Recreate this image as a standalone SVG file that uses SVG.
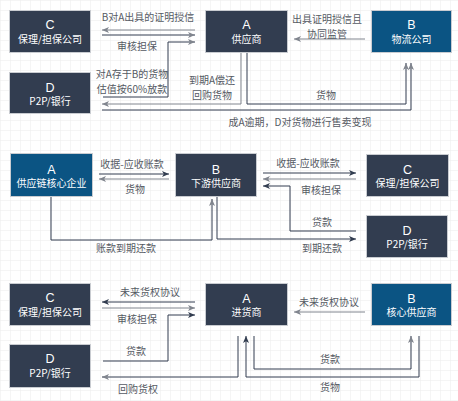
<svg xmlns="http://www.w3.org/2000/svg" width="458" height="401" viewBox="0 0 458 401">
<style>
.bx{stroke:#c9ccd1;stroke-width:1}
.dk{fill:#323d50}
.bl{fill:#0b5483}
.t1{font-family:"Liberation Sans","Noto Sans CJK SC",sans-serif;font-size:12.5px;fill:#ffffff;text-anchor:middle}
.t2{font-family:"Noto Sans CJK SC","Liberation Sans",sans-serif;font-size:10px;fill:#ffffff;text-anchor:middle}
.lb{font-family:"Noto Sans CJK SC","Liberation Sans",sans-serif;font-size:10px;fill:#555a63;text-anchor:middle}
.cd{fill:none;stroke:#323d50;stroke-width:1}
.cg{fill:none;stroke:#80858e;stroke-width:1}
</style>
<defs>
<pattern id="grid" width="10" height="10" patternUnits="userSpaceOnUse">
<path d="M10,0 L0,0 L0,10" fill="none" stroke="#ebebeb" stroke-width="1"/>
</pattern>
<marker id="ad" markerWidth="7" markerHeight="6" refX="7" refY="3" orient="auto" markerUnits="userSpaceOnUse">
<path d="M0,0 L7,3 L0,6 L1.8,3 Z" fill="#323d50"/>
</marker>
<marker id="ag" markerWidth="7" markerHeight="6" refX="7" refY="3" orient="auto" markerUnits="userSpaceOnUse">
<path d="M0,0 L7,3 L0,6 L1.8,3 Z" fill="#80858e"/>
</marker>
</defs>
<rect width="458" height="401" fill="#ffffff"/>
<rect width="458" height="401" fill="url(#grid)"/>

<g id="connectors">
<!-- section 1 -->
<path class="cg" d="M195,30 L102,30" marker-end="url(#ag)"/>
<path class="cd" d="M102,35 L195,35" marker-end="url(#ag)"/>
<path class="cd" d="M103,97 L168,97 L168,42 L195,42" marker-end="url(#ag)"/>
<path class="cg" d="M365,39 L294,39" marker-end="url(#ag)"/>
<path class="cg" d="M241,53 L241,104 L102,104" marker-end="url(#ag)"/>
<path class="cd" d="M247,53 L247,104 L406,104 L406,63" marker-end="url(#ag)"/>
<path class="cd" d="M102,110 L411,110 L411,63" marker-end="url(#ag)"/>
<text class="lb" x="148" y="20.5">B对A出具的证明授信</text>
<text class="lb" x="137" y="49.5">审核担保</text>
<text class="lb" x="132" y="78">对A存于B的货物</text>
<text class="lb" x="132" y="92.5">估值按60%放款</text>
<text class="lb" x="212" y="84">到期A偿还</text>
<text class="lb" x="212" y="98.5">回购货物</text>
<text class="lb" x="326" y="98.5">货物</text>
<text class="lb" x="300" y="125.5">成A逾期，D对货物进行售卖变现</text>
<text class="lb" x="327" y="23">出具证明授信且</text>
<text class="lb" x="327" y="37.5">协同监管</text>

<!-- section 2 -->
<path class="cd" d="M99,174 L169,174" marker-end="url(#ad)"/>
<path class="cg" d="M169,179 L99,179" marker-end="url(#ag)"/>
<path class="cd" d="M51,197 L51,240 L212,240 L212,199" marker-end="url(#ag)"/>
<path class="cd" d="M263,173 L356,173" marker-end="url(#ad)"/>
<path class="cg" d="M356,179 L263,179" stroke-width="1.5" marker-end="url(#ag)"/>
<path class="cd" d="M356,231 L290,231 L290,186 L263,186" marker-end="url(#ad)"/>
<path class="cd" d="M217,197 L217,239 L356,239" marker-end="url(#ad)"/>
<text class="lb" x="132" y="167.5">收据-应收账款</text>
<text class="lb" x="135" y="192.5">货物</text>
<text class="lb" x="126" y="251.5">账款到期还款</text>
<text class="lb" x="308" y="166.5">收据-应收账款</text>
<text class="lb" x="321" y="193.5">审核担保</text>
<text class="lb" x="322" y="225.5">贷款</text>
<text class="lb" x="322" y="251.5">到期还款</text>

<!-- section 3 -->
<path class="cd" d="M195,302 L102,302" marker-end="url(#ad)"/>
<path class="cg" d="M102,308 L195,308" marker-end="url(#ag)"/>
<path class="cd" d="M103,361 L168,361 L168,315 L195,315" marker-end="url(#ad)"/>
<path class="cd" d="M238,336 L238,377 L102,377" marker-end="url(#ag)"/>
<path class="cg" d="M365,312 L294,312" marker-end="url(#ag)"/>
<path class="cd" d="M254,336 L254,369 L411,369 L411,336" marker-end="url(#ag)"/>
<path class="cd" d="M419,336 L419,377 L246,377 L246,336" marker-end="url(#ad)"/>
<text class="lb" x="150" y="295.5">未来货权协议</text>
<text class="lb" x="137" y="322.5">审核担保</text>
<text class="lb" x="136" y="354.5">贷款</text>
<text class="lb" x="138" y="392.5">回购货权</text>
<text class="lb" x="329" y="305.5">未来货权协议</text>
<text class="lb" x="330" y="362.5">货款</text>
<text class="lb" x="330" y="391">货物</text>
</g>

<!-- section 1 nodes -->
<g id="s1-C"><rect class="bx dk" x="9.5" y="10.5" width="81" height="42"/><text class="t1" x="50" y="29">C</text><text class="t2" x="50" y="43">保理/担保公司</text></g>
<g id="s1-D"><rect class="bx dk" x="9.5" y="72.5" width="81" height="41"/><text class="t1" x="50" y="91.5">D</text><text class="t2" x="50" y="105">P2P/银行</text></g>
<g id="s1-A"><rect class="bx dk" x="205.5" y="10.5" width="82" height="42"/><text class="t1" x="246.5" y="29">A</text><text class="t2" x="246.5" y="42.5">供应商</text></g>
<g id="s1-B"><rect class="bx bl" x="371.5" y="10.5" width="80" height="42"/><text class="t1" x="411.5" y="29">B</text><text class="t2" x="411.5" y="42.5">物流公司</text></g>

<!-- section 2 nodes -->
<g id="s2-A"><rect class="bx bl" x="10.5" y="153.5" width="82" height="43"/><text class="t1" x="51.5" y="173.5">A</text><text class="t2" x="51.5" y="187">供应链核心企业</text></g>
<g id="s2-B"><rect class="bx dk" x="175.5" y="153.5" width="81" height="43"/><text class="t1" x="216" y="173.5">B</text><text class="t2" x="216" y="187">下游供应商</text></g>
<g id="s2-C"><rect class="bx dk" x="366.5" y="154.5" width="82" height="42"/><text class="t1" x="407.5" y="173.5">C</text><text class="t2" x="407.5" y="187">保理/担保公司</text></g>
<g id="s2-D"><rect class="bx dk" x="366.5" y="215.5" width="81" height="42"/><text class="t1" x="407" y="234.5">D</text><text class="t2" x="407" y="248">P2P/银行</text></g>

<!-- section 3 nodes -->
<g id="s3-C"><rect class="bx dk" x="9.5" y="283.5" width="81" height="42"/><text class="t1" x="50" y="302">C</text><text class="t2" x="50" y="316">保理/担保公司</text></g>
<g id="s3-D"><rect class="bx dk" x="9.5" y="344.5" width="81" height="43"/><text class="t1" x="50" y="363">D</text><text class="t2" x="50" y="377">P2P/银行</text></g>
<g id="s3-A"><rect class="bx dk" x="205.5" y="283.5" width="82" height="42"/><text class="t1" x="246.5" y="302.5">A</text><text class="t2" x="246.5" y="316">进货商</text></g>
<g id="s3-B"><rect class="bx bl" x="371.5" y="283.5" width="80" height="42"/><text class="t1" x="411.5" y="302.5">B</text><text class="t2" x="411.5" y="316">核心供应商</text></g>
</svg>
